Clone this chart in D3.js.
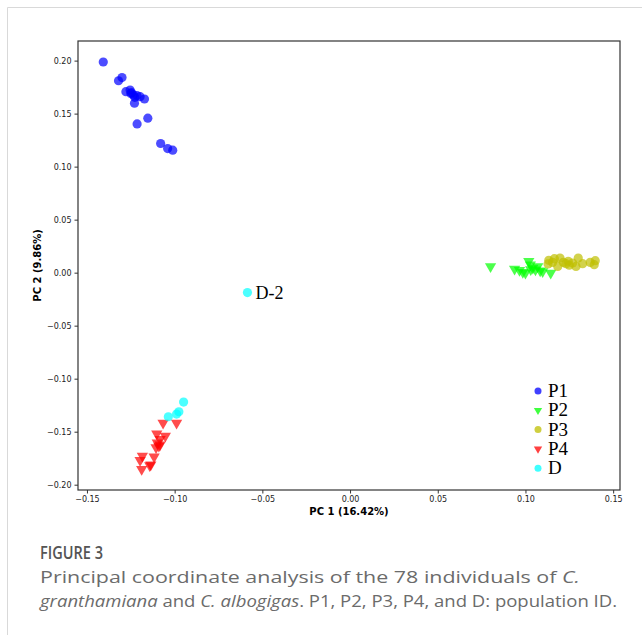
<!DOCTYPE html>
<html>
<head>
<meta charset="utf-8">
<script src="https://cdn.jsdelivr.net/npm/d3@7.9.0/dist/d3.min.js"></script>
<style>
  body { margin: 0; background: #fff; }
  svg { display: block; }
</style>
</head>
<body>
<svg id="chart" width="642" height="635"></svg>
<script>
// PC1 / PC2 coordinates per population
const p1 = [
  [-0.1407, 0.1987], [-0.1320, 0.1810], [-0.1300, 0.1840], [-0.1278, 0.1707],
  [-0.1254, 0.1723], [-0.1246, 0.1698], [-0.1250, 0.1690], [-0.1235, 0.1676],
  [-0.1227, 0.1654], [-0.1215, 0.1670], [-0.1197, 0.1660], [-0.1172, 0.1638],
  [-0.1229, 0.1598], [-0.1214, 0.1403], [-0.1153, 0.1457], [-0.1080, 0.1218],
  [-0.1040, 0.1170], [-0.1011, 0.1155]
];
const p2 = [
  [0.0801, 0.0059], [0.0938, 0.0035], [0.0966, 0.0022], [0.0985, 0.0003],
  [0.1000, -0.0003], [0.1019, 0.0107], [0.1028, 0.0075], [0.1042, 0.0044],
  [0.1030, 0.0030], [0.1057, 0.0028], [0.1070, 0.0059], [0.1084, 0.0019],
  [0.1098, 0.0012], [0.1144, -0.0003]
];
const p3 = [
  [0.1133, 0.0116], [0.1129, 0.0082], [0.1155, 0.0097], [0.1165, 0.0132],
  [0.1184, 0.0059], [0.1197, 0.0138], [0.1216, 0.0097], [0.1231, 0.0085],
  [0.1244, 0.0107], [0.1250, 0.0070], [0.1269, 0.0091], [0.1288, 0.0059],
  [0.1301, 0.0138], [0.1326, 0.0085], [0.1369, 0.0097], [0.1392, 0.0075],
  [0.1398, 0.0113]
];
const p4 = [
  [-0.1066, -0.1419], [-0.0989, -0.1419], [-0.1102, -0.1519], [-0.1053, -0.1541],
  [-0.1083, -0.1572], [-0.1099, -0.1604], [-0.1083, -0.1623], [-0.1106, -0.1648],
  [-0.1090, -0.1635], [-0.1184, -0.1730], [-0.1117, -0.1736], [-0.1197, -0.1770],
  [-0.1136, -0.1811], [-0.1142, -0.1818], [-0.1188, -0.1855]
];
const dPop = [
  [-0.0949, -0.1221], [-0.0976, -0.1312], [-0.0989, -0.1334], [-0.1036, -0.1359],
  [-0.0585, -0.0188]
];

const groups = [
  { name: 'P1', shape: 'circle', color: '#0000ff', pts: p1 },
  { name: 'P2', shape: 'tri', color: '#00ff00', pts: p2 },
  { name: 'P3', shape: 'circle', color: '#bfbf00', pts: p3 },
  { name: 'P4', shape: 'tri', color: '#ff0000', pts: p4 },
  { name: 'D', shape: 'circle', color: '#00ffff', pts: dPop }
];

const xTicks = [-0.15, -0.10, -0.05, 0.00, 0.05, 0.10, 0.15];
const yTicks = [-0.20, -0.15, -0.10, -0.05, 0.00, 0.05, 0.10, 0.15, 0.20];
const annotation = { label: 'D-2', at: [-0.0585, -0.0188] };

const svg = d3.select('#chart');

// card outline
svg.append('line').attr('x1', 7.5).attr('x2', 642).attr('y1', 7.5).attr('y2', 7.5)
  .attr('stroke', '#d9d9d9').attr('stroke-width', 1);
svg.append('line').attr('x1', 7.5).attr('x2', 7.5).attr('y1', 7.5).attr('y2', 635)
  .attr('stroke', '#d9d9d9').attr('stroke-width', 1);

const plotL = 78, plotR = 620, plotT = 41, plotB = 490;

const x = d3.scaleLinear().domain([-0.1551, 0.1539]).range([plotL, plotR]);
const y = d3.scaleLinear().domain([-0.2050, 0.2185]).range([plotB, plotT]);

const fmt = d3.format('.2f');
const minus = v => fmt(v).replace('-', '\u2212');

const xAxis = svg.append('g').attr('transform', `translate(0,${plotB})`)
  .call(d3.axisBottom(x).tickValues(xTicks).tickFormat(minus).tickSize(3.5).tickPadding(3));
const yAxis = svg.append('g').attr('transform', `translate(${plotL},0)`)
  .call(d3.axisLeft(y).tickValues(yTicks).tickFormat(minus).tickSize(3.5).tickPadding(3));

[xAxis, yAxis].forEach(g => {
  g.select('.domain').remove();
  g.selectAll('line').attr('stroke', '#333');
  g.selectAll('text').attr('font-family', 'DejaVu Sans').attr('font-size', 8).attr('fill', '#222');
});

// frame
svg.append('rect').attr('x', plotL).attr('y', plotT)
  .attr('width', plotR - plotL).attr('height', plotB - plotT)
  .attr('fill', 'none').attr('stroke', '#333').attr('stroke-width', 1.2);

const tri = d3.symbol().type(d3.symbolTriangle).size(55);

groups.forEach(g => {
  const layer = svg.append('g');
  if (g.shape === 'circle') {
    layer.selectAll('circle').data(g.pts).enter().append('circle')
      .attr('cx', d => x(d[0])).attr('cy', d => y(d[1])).attr('r', 4.6)
      .attr('fill', g.color).attr('fill-opacity', 0.7);
  } else {
    layer.selectAll('path').data(g.pts).enter().append('path')
      .attr('d', tri)
      .attr('transform', d => `translate(${x(d[0])},${y(d[1])}) rotate(180)`)
      .attr('fill', g.color).attr('fill-opacity', 0.7);
  }
});

// annotation
svg.append('text')
  .attr('x', x(annotation.at[0]) + 8).attr('y', y(annotation.at[1]) + 6)
  .attr('font-family', 'Liberation Serif').attr('font-size', 18)
  .text(annotation.label);

// axis labels
svg.append('text').attr('x', (plotL + plotR) / 2).attr('y', 515)
  .attr('text-anchor', 'middle').attr('font-family', 'DejaVu Sans')
  .attr('font-weight', 'bold').attr('font-size', 10).text('PC 1 (16.42%)');
svg.append('text').attr('transform', `translate(41,${(plotT + plotB) / 2}) rotate(-90)`)
  .attr('text-anchor', 'middle').attr('font-family', 'DejaVu Sans')
  .attr('font-weight', 'bold').attr('font-size', 10).text('PC 2 (9.86%)');

// legend
const legend = svg.append('g').attr('transform', 'translate(538,391)');
groups.forEach((g, i) => {
  const row = legend.append('g').attr('transform', `translate(0,${i * 19.3})`);
  if (g.shape === 'circle') {
    row.append('circle').attr('r', 3.5).attr('fill', g.color).attr('fill-opacity', 0.75);
  } else {
    row.append('path').attr('d', d3.symbol().type(d3.symbolTriangle).size(30))
      .attr('transform', 'rotate(180)').attr('fill', g.color).attr('fill-opacity', 0.75);
  }
  row.append('text').attr('x', 10).attr('y', 6)
    .attr('font-family', 'Liberation Serif').attr('font-size', 19).text(g.name);
});

// caption
const cap = svg.append('g').attr('font-family', 'Open Sans, sans-serif').attr('fill', '#6b6b6b');
cap.append('text').attr('x', 40).attr('y', 559).attr('font-size', 17.5).attr('font-weight', 600)
  .attr('fill', '#555').attr('textLength', 63).attr('lengthAdjust', 'spacingAndGlyphs').text('FIGURE 3');
const l1 = cap.append('text').attr('x', 40).attr('y', 583).attr('font-size', 17)
  .attr('textLength', 540).attr('lengthAdjust', 'spacingAndGlyphs');
l1.append('tspan').text('Principal coordinate analysis of the 78 individuals of ');
l1.append('tspan').attr('font-style', 'italic').text('C.');
const l2 = cap.append('text').attr('x', 40).attr('y', 607).attr('font-size', 17)
  .attr('textLength', 577).attr('lengthAdjust', 'spacingAndGlyphs');
l2.append('tspan').attr('font-style', 'italic').text('granthamiana');
l2.append('tspan').text(' and ');
l2.append('tspan').attr('font-style', 'italic').text('C. albogigas');
l2.append('tspan').text('. P1, P2, P3, P4, and D: population ID.');
</script>
</body>
</html>
